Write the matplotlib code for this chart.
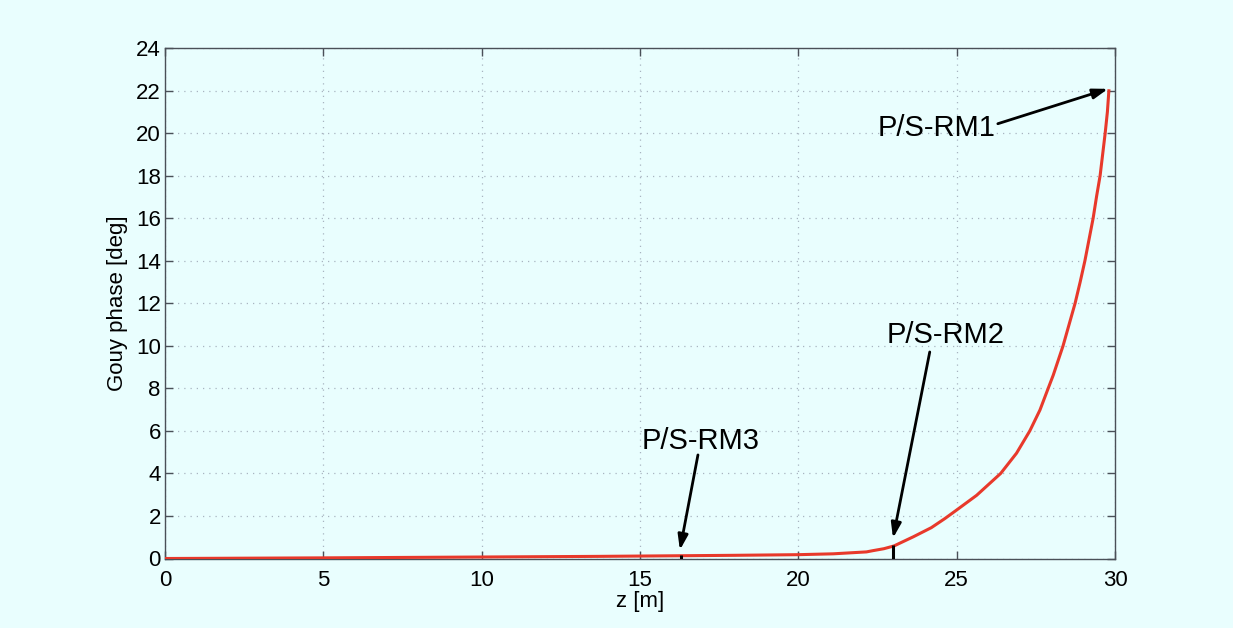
import matplotlib
matplotlib.use("Agg")
import matplotlib.pyplot as plt

# Data
z = [0, 5, 10, 13.7, 16.3, 18, 20, 21.1, 22.15, 22.36, 22.7, 23.02, 23.63,
     24.2, 24.63, 25.0, 25.63, 26.39, 26.89, 27.31, 27.63, 27.89, 28.05,
     28.36, 28.55, 28.74, 28.9, 29.05, 29.18, 29.31, 29.42, 29.53, 29.69,
     29.76, 29.81]
gouy = [0, 0.03, 0.07, 0.10, 0.13, 0.15, 0.18, 0.22, 0.31, 0.37, 0.46, 0.59,
        1.02, 1.45, 1.88, 2.28, 2.97, 4.0, 4.95, 6.0, 6.98, 8.0, 8.62,
        10.0, 11.0, 12.0, 13.0, 14.0, 15.0, 16.0, 17.04, 18.0, 20.0,
        21.0, 22.06]

marker_z = [16.3, 23.0]
marker_h = [0.15, 0.62]

labels = ["P/S-RM1", "P/S-RM2", "P/S-RM3"]
tips = [(29.78, 22.08), (22.99, 0.96), (16.26, 0.40)]
tails = [(26.3, 20.44), (24.15, 9.71), (16.83, 4.87)]
text_pos = [(24.35, 20.25), (24.66, 10.5), (16.92, 5.53)]

xticks = list(range(0, 31, 5))
yticks = list(range(0, 25, 2))

bg = "#e9fefe"
plt.rcParams['font.family'] = ['Liberation Sans', 'DejaVu Sans']

fig = plt.figure(figsize=(12.33, 6.28), dpi=100, facecolor=bg)
ax = fig.add_axes([165/1233, 1-558.5/628, (1115-165)/1233, (558.5-48)/628])
ax.set_facecolor(bg)

ax.plot(z, gouy, color="#e8392b", lw=2.2, zorder=3, solid_capstyle='butt')
ax.vlines(marker_z, 0, marker_h, colors="black", lw=2.2, zorder=4)

for lab, tip, tail, tp in zip(labels, tips, tails, text_pos):
    ax.annotate("", xy=tip, xytext=tail,
                arrowprops=dict(arrowstyle="-|>,head_length=0.9,head_width=0.3",
                                color="black", lw=2.0, shrinkA=0, shrinkB=0),
                zorder=5)
    ax.text(tp[0], tp[1], lab, fontsize=21, ha="center", va="center",
            color="black", zorder=5)

ax.set_xlim(0, 30)
ax.set_ylim(0, 24)
ax.set_xticks(xticks)
ax.set_yticks(yticks)
ax.grid(True, linestyle=(0, (1, 4)), color="#a9b4c0", lw=0.9)
ax.tick_params(direction="in", length=6, width=1, color="#4a5058",
               labelsize=16, top=True, right=True)
ax.tick_params(axis="x", pad=8)
ax.tick_params(axis="y", pad=3)
for s in ax.spines.values():
    s.set_color("#4a5058")
    s.set_linewidth(1.0)

ax.set_xlabel("z [m]", fontsize=16, labelpad=0)
ax.set_ylabel("Gouy phase [deg]", fontsize=16, labelpad=6)

fig.savefig("out.png", dpi=100, facecolor=bg)
